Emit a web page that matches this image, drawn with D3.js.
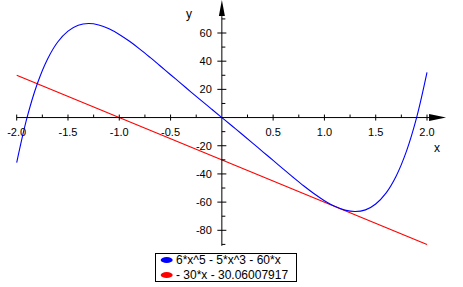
<!DOCTYPE html>
<html>
<head>
<meta charset="utf-8">
<script src="https://cdn.jsdelivr.net/npm/d3@7"></script>
<style>
  body { margin: 0; background: #fff; }
  svg { display: block; font-family: "Liberation Sans", Arial, sans-serif; }
</style>
</head>
<body>
<div id="graph"></div>
<script>
//Size of the picture.
let w = 463
let h = 287

let curveX = [-2.0, -1.9, -1.8, -1.7, -1.6, -1.5, -1.4, -1.3, -1.2, -1.1, -1.0,
              -0.9, -0.8, -0.7, -0.6, -0.5, -0.4, -0.3, -0.2, -0.1, 0.0,
              0.1, 0.2, 0.3, 0.4, 0.5, 0.6, 0.7, 0.8, 0.9, 1.0,
              1.1, 1.2, 1.3, 1.4, 1.5, 1.6, 1.7, 1.8, 1.9, 2.0]
let curveY = [-32.0, -0.3, 23.8, 41.4, 53.6, 61.3, 65.5, 66.7, 65.7, 63.0, 59.0,
              54.1, 48.6, 42.7, 36.6, 30.4, 24.3, 18.1, 12.0, 6.0, 0.0,
              -6.0, -12.0, -18.1, -24.3, -30.4, -36.6, -42.7, -48.6, -54.1, -59.0,
              -63.0, -65.7, -66.7, -65.5, -61.3, -53.6, -41.4, -23.8, 0.3, 32.0]

//End points of the red line.
let lineX = [-2.0, 2.0]
let lineY = [29.94, -90.06]

//Tick values.
let xMajor = [-2.0, -1.5, -1.0, -0.5, 0.5, 1.0, 1.5, 2.0]
let xMinor = [-1.75, -1.25, -0.75, -0.25, 0.25, 0.75, 1.25, 1.75]
let yMajor = [60, 40, 20, -20, -40, -60, -80]
let yMinor = [70, 50, 30, 10, -10, -30, -50, -70, -90]

//Legend entries.
let legendLabels = ["6*x^5 - 5*x^3 - 60*x", "- 30*x - 30.06007917"]
let legendColors = ["#0000ff", "#ff0000"]

const svg = d3.select("#graph")
              .append("svg")
              .attr("width", w)
              .attr("height", h)

//Scales from data to pixels.
const x = d3.scaleLinear().domain([-2, 2]).range([16.7, 427])
const y = d3.scaleLinear().domain([60, -80]).range([33, 230.3])

const x0 = x(0)
const y0 = y(0)

//Curves.
const line = d3.line()
               .x(d => x(d[0]))
               .y(d => y(d[1]))

svg.append("path")
   .datum(d3.zip(lineX, lineY))
   .attr("d", line)
   .attr("fill", "none")
   .attr("stroke", legendColors[1])
   .attr("stroke-width", 1.1)

svg.append("path")
   .datum(d3.zip(curveX, curveY))
   .attr("d", line.curve(d3.curveCatmullRom))
   .attr("fill", "none")
   .attr("stroke", legendColors[0])
   .attr("stroke-width", 1.1)

//Axes.
const axes = svg.append("g").attr("stroke", "#000").attr("stroke-width", 1)

axes.append("line")
    .attr("x1", x(-2)).attr("x2", x(2.15))
    .attr("y1", y0).attr("y2", y0)
axes.append("line")
    .attr("x1", x0).attr("x2", x0)
    .attr("y1", y(-91)).attr("y2", y(72))

//Arrow heads.
svg.append("path")
   .attr("d", `M${x(2.02)},${y0 - 3.5}L${x(2.02) + 17},${y0}L${x(2.02)},${y0 + 3.5}Z`)
   .attr("fill", "#000")
svg.append("path")
   .attr("d", `M${x0 - 3},${y(72)}L${x0},${y(72) - 16}L${x0 + 3},${y(72)}Z`)
   .attr("fill", "#000")

//Ticks.
axes.selectAll(".xmaj")
    .data(xMajor).enter().append("line")
    .attr("x1", d => x(d)).attr("x2", d => x(d))
    .attr("y1", y0 - 3).attr("y2", y0 + 3)
axes.selectAll(".xmin")
    .data(xMinor).enter().append("line")
    .attr("x1", d => x(d)).attr("x2", d => x(d))
    .attr("y1", y0 - 3).attr("y2", y0)
axes.selectAll(".ymaj")
    .data(yMajor).enter().append("line")
    .attr("x1", x0 - 4.5).attr("x2", x0 + 4.5)
    .attr("y1", d => y(d)).attr("y2", d => y(d))
axes.selectAll(".ymin")
    .data(yMinor).enter().append("line")
    .attr("x1", x0).attr("x2", x0 + 3.5)
    .attr("y1", d => y(d)).attr("y2", d => y(d))

//Tick labels.
svg.selectAll(".xlab")
   .data(xMajor).enter().append("text")
   .attr("x", d => x(d))
   .attr("y", y0 + 18.5)
   .attr("text-anchor", "middle")
   .attr("font-size", 11)
   .text(d => d.toFixed(1))

svg.selectAll(".ylab")
   .data(yMajor).enter().append("text")
   .attr("x", x0 - 10)
   .attr("y", d => y(d))
   .attr("dy", "0.36em")
   .attr("text-anchor", "end")
   .attr("font-size", 11)
   .text(d => d.toFixed(0))

//Axis names.
svg.append("text").attr("x", 437).attr("y", 152)
   .attr("text-anchor", "middle").attr("font-size", 12).text("x")
svg.append("text").attr("x", 189).attr("y", 18)
   .attr("text-anchor", "middle").attr("font-size", 12).text("y")

//Legend.
const legend = svg.append("g")

legend.append("rect")
      .attr("x", 155.5).attr("y", 253.5)
      .attr("width", 141).attr("height", 28)
      .attr("fill", "#fff")
      .attr("stroke", "#000")

legend.selectAll("ellipse")
      .data(legendColors).enter().append("ellipse")
      .attr("cx", 166.7)
      .attr("cy", (d, i) => 260 + i * 15)
      .attr("rx", 6).attr("ry", 3)
      .attr("fill", d => d)

legend.selectAll("text")
      .data(legendLabels).enter().append("text")
      .attr("x", 176)
      .attr("y", (d, i) => 260 + i * 15)
      .attr("dy", "0.36em")
      .attr("font-size", 12)
      .text(d => d)
</script>
</body>
</html>
